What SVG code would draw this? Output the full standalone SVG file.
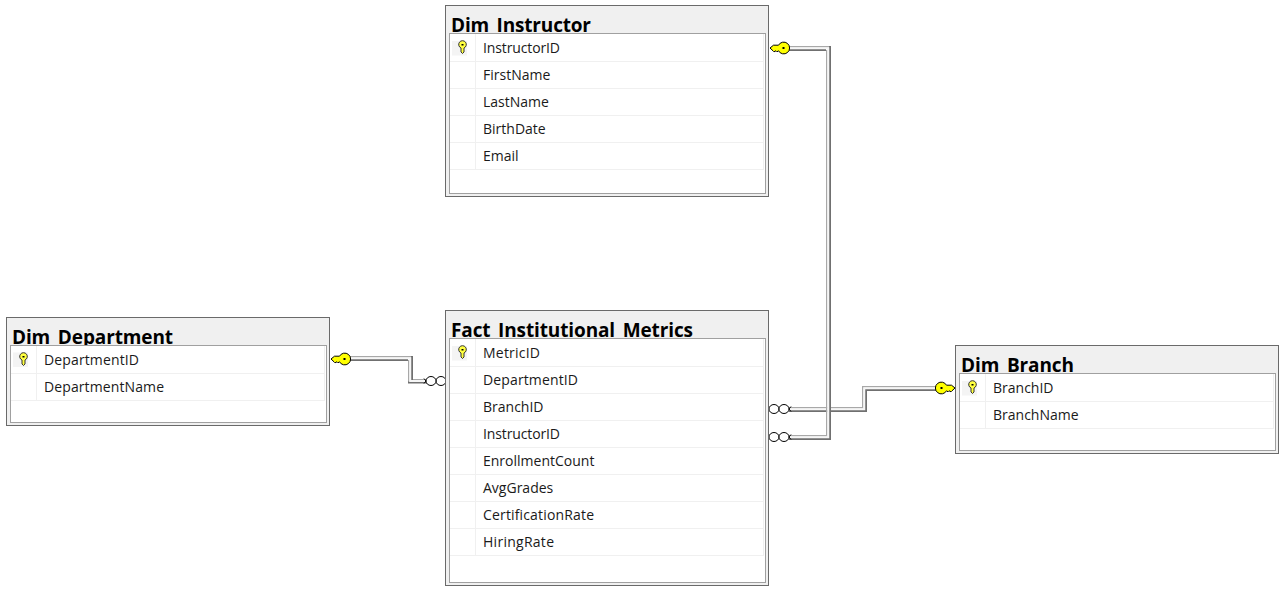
<svg xmlns="http://www.w3.org/2000/svg" width="1285" height="592" viewBox="0 0 1285 592">
<style>
text{font-family:"Open Sans","Noto Sans","Liberation Sans",sans-serif;fill:#000}
.o{fill:#f0f0f0;stroke:#6a6a6a;stroke-width:1}
.i{fill:#fff;stroke:#a0a0a0;stroke-width:1}
.t{font-size:19px;font-weight:700}
.f{font-size:14px;fill:#1a1a1a}
.r{stroke:#f0f0f0;stroke-width:1;fill:none}
.kc{fill:#f4f4f4}
.d{fill:none;stroke:#707070;stroke-width:2}
.l{fill:none;stroke:#a8a8a8;stroke-width:1.500}
.w{fill:none;stroke:#f6f6f6;stroke-width:2}
.ring{fill:#fff;stroke:#000;stroke-width:1}
.wedge{fill:none;stroke:#000;stroke-width:1}
.k{fill:#ffff00;stroke:#000;stroke-width:1}
.kv{fill:#ffff40;stroke:#333;stroke-width:1}
</style>
<defs>
<g id="keyL"><path class="k" d="M0 0 L3.500 -2.800 H8.500 A5.900 5.900 0 1 1 8.500 2.800 L7 3.800 L6 2.800 L4 3.800 L3 2.800 Z"/><rect x="12.500" y="-1" width="2" height="2" fill="#000"/></g>
<g id="keyV"><path class="kv" d="M-1.500 0 A3.800 3.800 0 1 1 1.500 0 V4 L0 5.500 L-1.500 4 Z"/><rect x="-1" y="-4" width="2" height="1.500" fill="#000"/></g>
<g id="rings"><ellipse class="ring" cx="5" cy="0" rx="5" ry="4.500"/><ellipse class="ring" cx="15" cy="0" rx="5" ry="4.500"/><path class="wedge" d="M22 -2.500 L20 0 L22 2.500"/></g>
</defs>
<g id="connectors">
<path class="l" d="M789 407.750H862.750V386.750H937"/>
<path class="d" d="M789 411H866V390H937"/>
<path class="w" d="M789 409.250H864.250V388.250H937"/>
<path class="l" d="M350 356.750H413M408.750 360V383M412 379.750H427"/>
<path class="d" d="M350 360H408M412 356V381M408 382.500H427"/>
<path class="w" d="M350 358.250H410.250V381H427"/>
<path class="l" d="M789 46.750H831M789 435.750H826.750V50"/>
<path class="d" d="M789 50H826M830 46V439H789"/>
<path class="w" d="M789 48.250H828.250V437.250H789"/>
<use href="#keyL" x="770" y="48"/>
<use href="#keyL" transform="translate(955 388) scale(-1 1)"/>
<use href="#keyL" x="331" y="359"/>
<use href="#rings" x="769" y="409"/>
<use href="#rings" x="769" y="437"/>
<use href="#rings" transform="translate(446 381) scale(-1 1)"/>
</g>
<g id="Dim_Instructor">
<rect class="o" x="445.500" y="5.500" width="323" height="191"/>
<text class="t" x="451" y="32" textLength="140">Dim_Instructor</text>
<rect class="i" x="449.500" y="33.500" width="316" height="160"/>
<path class="r" d="M450 61.500H764M450 88.500H764M450 115.500H764M450 142.500H764M450 169.500H764M475.500 34V169M763.500 34V169"/>
<rect class="kc" x="452" y="41" width="15" height="14.500"/>
<use href="#keyV" x="462.500" y="48"/>
<text class="f" x="483" y="53" textLength="77">InstructorID</text>
<text class="f" x="483" y="80">FirstName</text>
<text class="f" x="483" y="107">LastName</text>
<text class="f" x="483" y="134">BirthDate</text>
<text class="f" x="483" y="161">Email</text>
</g>
<g id="Dim_Department">
<rect class="o" x="6.500" y="317.500" width="323" height="108"/>
<text class="t" x="12" y="344" textLength="161">Dim_Department</text>
<rect class="i" x="10.500" y="345.500" width="316" height="77"/>
<path class="r" d="M11 373.500H325M11 400.500H325M36.500 346V400M324.500 346V400"/>
<rect class="kc" x="13" y="352.500" width="15" height="14.500"/>
<use href="#keyV" x="23.500" y="360"/>
<text class="f" x="44" y="365" textLength="95">DepartmentID</text>
<text class="f" x="44" y="392" textLength="120">DepartmentName</text>
</g>
<g id="Fact_Institutional_Metrics">
<rect class="o" x="445.500" y="310.500" width="323" height="275"/>
<text class="t" x="451" y="337" textLength="242">Fact_Institutional_Metrics</text>
<rect class="i" x="449.500" y="338.500" width="316" height="244"/>
<path class="r" d="M450 366.500H764M450 393.500H764M450 420.500H764M450 447.500H764M450 474.500H764M450 501.500H764M450 528.500H764M450 555.500H764M475.500 339V555M763.500 339V555"/>
<rect class="kc" x="452" y="346" width="15" height="14.500"/>
<use href="#keyV" x="462.500" y="353"/>
<text class="f" x="483" y="358" textLength="57">MetricID</text>
<text class="f" x="483" y="385" textLength="95">DepartmentID</text>
<text class="f" x="483" y="412">BranchID</text>
<text class="f" x="483" y="439" textLength="77">InstructorID</text>
<text class="f" x="483" y="466">EnrollmentCount</text>
<text class="f" x="483" y="493">AvgGrades</text>
<text class="f" x="483" y="520" textLength="111">CertificationRate</text>
<text class="f" x="483" y="547" textLength="71">HiringRate</text>
</g>
<g id="Dim_Branch">
<rect class="o" x="955.500" y="345.500" width="323" height="108"/>
<text class="t" x="961" y="372" textLength="113">Dim_Branch</text>
<rect class="i" x="959.500" y="373.500" width="316" height="77"/>
<path class="r" d="M960 401.500H1274M960 428.500H1274M985.500 374V428M1273.500 374V428"/>
<rect class="kc" x="962" y="381" width="15" height="14.500"/>
<use href="#keyV" x="972.500" y="388"/>
<text class="f" x="993" y="393">BranchID</text>
<text class="f" x="993" y="420">BranchName</text>
</g>
</svg>
